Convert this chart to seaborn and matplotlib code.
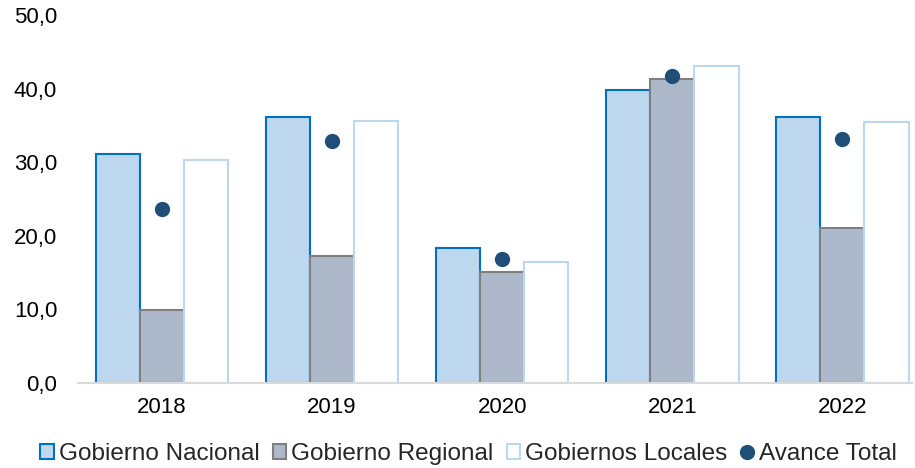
import matplotlib
matplotlib.use("Agg")
import matplotlib.pyplot as plt
from matplotlib.patches import Patch
from matplotlib.lines import Line2D
import seaborn as sns
import pandas as pd

years = ["2018", "2019", "2020", "2021", "2022"]
series = ["Gobierno Nacional", "Gobierno Regional", "Gobiernos Locales"]
nacional = [31.1, 36.1, 18.3, 39.8, 36.1]
regional = [9.9, 17.3, 15.1, 41.3, 21.1]
locales = [30.3, 35.6, 16.4, 43.1, 35.5]
avance = [23.6, 32.9, 16.8, 41.7, 33.2]
yticks = [0, 10, 20, 30, 40, 50]
ytick_labels = ["0,0", "10,0", "20,0", "30,0", "40,0", "50,0"]

fills = ["#BDD7EE", "#ADB9CA", "#FFFFFF"]
edges = ["#0070C0", "#7F7F7F", "#BDD7EE"]
dot_color = "#1F4E79"

sns.set_theme(style="white")
plt.rcParams["font.family"] = ["Liberation Sans", "DejaVu Sans"]

df = pd.DataFrame({
    "Año": years * 3,
    "Serie": [series[0]] * 5 + [series[1]] * 5 + [series[2]] * 5,
    "Valor": nacional + regional + locales,
})
df_av = pd.DataFrame({"Año": years, "Valor": avance})

fig = plt.figure(figsize=(9.15, 4.68), dpi=100)
ax = fig.add_axes([78 / 915, 1 - 383 / 468, (912 - 78) / 915, (383 - 15) / 468])

sns.barplot(data=df, x="Año", y="Valor", hue="Serie", order=years, hue_order=series,
            palette=fills, width=0.78, gap=0, saturation=1, ax=ax, legend=False,
            errorbar=None)
for i, cont in enumerate(ax.containers):
    for bar in cont:
        bar.set_edgecolor(edges[i])
        bar.set_linewidth(1.5)

sns.stripplot(data=df_av, x="Año", y="Valor", order=years, jitter=False, color=dot_color,
              size=11, ax=ax, zorder=5, linewidth=0)

ax.set_ylim(0, 50)
ax.set_xlim(-0.494, 4.41)
ax.set_yticks(yticks)
ax.set_yticklabels(ytick_labels)
ax.set_xlabel("")
ax.set_ylabel("")
ax.tick_params(axis="both", length=0, labelsize=16, colors="#000000")
ax.tick_params(axis="y", pad=15)
ax.tick_params(axis="x", pad=10)
for s in ["top", "right", "left"]:
    ax.spines[s].set_visible(False)
ax.spines["bottom"].set_color("#D9D9D9")
ax.spines["bottom"].set_linewidth(1.5)
ax.grid(False)

handles = [Patch(facecolor=fills[i], edgecolor=edges[i], linewidth=1.5) for i in range(3)]
handles.append(Line2D([], [], marker="o", linestyle="none", color=dot_color, markersize=10))
labels = series + ["Avance Total"]
fig.legend(handles, labels, loc="lower center", bbox_to_anchor=(0.512, -0.04), ncol=4,
           frameon=False, fontsize=17.5, handlelength=0.55, handleheight=0.55,
           handletextpad=0.2, columnspacing=0.55)

fig.savefig("out.png", dpi=100)
